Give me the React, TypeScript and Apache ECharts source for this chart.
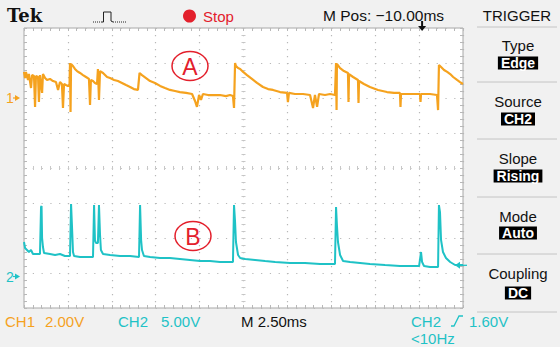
import React, { useEffect, useRef } from "react";
import * as echarts from "echarts";

// ---------- data (time in ms relative to trigger, values in volts) ----------
const timeRange = [-22.5, 2.5];
const timeDiv = 2.5; // M 2.50ms
const ch1Range = [-12, 4]; // 2.00 V/div, ground 2 div above centre
const ch1Div = 2;
const ch2Range = [-4.5, 35.5]; // 5.00 V/div
const triggerLevel = 1.6;

const ch1Data: [number, number][] = [
  [-22.5, 1.49], [-22.44, 1.14], [-22.39, 1.49], [-22.27, 1.03], [-22.22, 1.37], [-22.1, 0.57], [-22.04, 1.31],
  [-21.93, 1.26], [-21.87, -0.51], [-21.82, 1.26], [-21.7, 1.2], [-21.65, -0.23], [-21.59, 1.31], [-21.47, 0.29],
  [-21.42, 1.37], [-21.3, 1.14], [-21.19, 1.03], [-21.02, 1.09], [-20.85, 0.97], [-20.68, 0.91], [-20.56, 0.46],
  [-20.45, 0.91], [-20.34, 0.8], [-20.28, -0.57], [-20.22, 0.8], [-20.11, 0.74], [-20.0, 0.69], [-19.91, 0.69],
  [-19.88, 2.0], [-19.85, -0.8], [-19.82, 1.94], [-19.71, 1.83], [-19.6, 1.66], [-19.48, 1.54], [-19.31, 1.43],
  [-19.14, 1.31], [-18.97, 1.2], [-18.8, 1.09], [-18.74, -0.4], [-18.69, 1.03], [-18.57, 0.97], [-18.46, 0.86],
  [-18.34, 0.8], [-18.29, 1.66], [-18.23, -0.11], [-18.17, 1.54], [-18.0, 1.43], [-17.77, 1.2], [-17.6, 1.14],
  [-17.37, 1.03], [-17.15, 0.97], [-16.92, 0.86], [-16.69, 0.74], [-16.46, 0.63], [-16.24, 0.51], [-16.01, 0.46],
  [-15.92, 1.43], [-15.78, 1.31], [-15.55, 1.14], [-15.32, 0.97], [-15.04, 0.86], [-14.75, 0.69], [-14.47, 0.57],
  [-14.19, 0.46], [-13.9, 0.4], [-13.62, 0.34], [-13.27, 0.29], [-12.93, 0.23], [-12.76, -0.17], [-12.65, -0.51],
  [-12.53, 0.17], [-12.42, -0.11], [-12.31, 0.23], [-12.02, 0.17], [-11.68, 0.17], [-11.34, 0.17], [-11.0, 0.11],
  [-10.77, 0.17], [-10.6, 0.11], [-10.54, -0.57], [-10.48, 2.0], [-10.43, 1.83], [-10.31, 1.71], [-10.19, 1.66],
  [-10.02, 1.49], [-9.8, 1.31], [-9.52, 1.09], [-9.23, 0.86], [-8.89, 0.63], [-8.6, 0.51], [-8.32, 0.46],
  [-7.92, 0.34], [-7.52, 0.29], [-7.47, -0.23], [-7.41, 0.29], [-7.07, 0.23], [-6.61, 0.23], [-6.21, 0.17],
  [-6.04, -0.57], [-5.93, 0.17], [-5.81, -0.51], [-5.7, 0.23], [-5.36, 0.17], [-5.07, 0.23], [-4.79, 0.17],
  [-4.73, 2.0], [-4.7, -0.69], [-4.68, 1.94], [-4.5, 1.71], [-4.28, 1.54], [-4.05, 1.43], [-4.02, -0.23],
  [-3.99, 1.37], [-3.76, 1.2], [-3.48, 1.03], [-3.45, -0.29], [-3.42, 0.97], [-3.14, 0.8], [-2.8, 0.63],
  [-2.34, 0.46], [-1.83, 0.34], [-1.43, 0.29], [-1.09, 0.29], [-1.06, -0.51], [-1.03, 0.23], [-0.52, 0.23],
  [0.05, 0.23], [0.08, -0.23], [0.11, 0.23], [0.62, 0.23], [1.02, 0.17], [1.08, -0.69], [1.13, 1.89],
  [1.25, 1.77], [1.42, 1.6], [1.6, 1.49], [1.77, 1.37], [1.94, 1.2], [2.16, 1.03], [2.33, 0.91], [2.5, 0.8],
];

const ch2Data: [number, number][] = [
  [-22.5, 4.93], [-22.44, 4.07], [-22.33, 3.79], [-22.22, 3.5], [-22.1, 3.79], [-21.99, 3.21], [-21.59, 3.21],
  [-21.53, 9.93], [-21.5, 10.07], [-21.47, 5.5], [-21.42, 4.21], [-21.36, 3.36], [-21.02, 3.21], [-20.73, 3.07],
  [-20.45, 3.21], [-20.17, 2.93], [-19.88, 2.93], [-19.82, 10.36], [-19.77, 7.36], [-19.71, 3.5], [-19.65, 2.93],
  [-19.31, 2.79], [-18.97, 2.79], [-18.57, 2.79], [-18.51, 10.21], [-18.46, 5.21], [-18.4, 4.79], [-18.29, 4.79],
  [-18.23, 10.21], [-18.17, 5.93], [-18.12, 3.79], [-18.0, 3.21], [-17.6, 3.07], [-17.03, 2.93], [-16.46, 2.93],
  [-15.95, 2.79], [-15.89, 10.21], [-15.83, 5.21], [-15.78, 3.79], [-15.67, 2.93], [-15.32, 2.79], [-14.75, 2.64],
  [-14.19, 2.64], [-13.62, 2.5], [-13.05, 2.36], [-12.48, 2.21], [-11.91, 2.21], [-11.34, 2.07], [-10.6, 2.07],
  [-10.54, 10.21], [-10.48, 7.79], [-10.43, 4.93], [-10.31, 3.07], [-10.19, 2.64], [-9.9, 2.5], [-9.34, 2.36],
  [-8.77, 2.21], [-8.2, 2.07], [-7.35, 1.93], [-6.5, 1.93], [-5.64, 1.79], [-4.79, 1.79], [-4.73, 9.93],
  [-4.68, 7.36], [-4.62, 4.93], [-4.5, 3.07], [-4.33, 2.21], [-3.93, 2.07], [-3.36, 1.93], [-2.8, 1.79],
  [-1.94, 1.64], [-1.09, 1.5], [-0.52, 1.5], [0.0, 1.5], [0.11, 3.5], [0.17, 2.07], [0.28, 1.5], [0.62, 1.36],
  [1.08, 1.36], [1.13, 10.21], [1.19, 9.21], [1.25, 5.21], [1.36, 3.5], [1.53, 2.64], [1.77, 2.07], [2.05, 1.64],
  [2.5, 1.64],
];

const menuTitles = ["Type", "Source", "Slope", "Mode", "Coupling"];
const menuValues = ["Edge", "CH2", "Rising", "Auto", "DC"];

// ---------- styles ----------
const ORANGE = "#F5A21E";
const CYAN = "#1FC2C6";
const RED = "#E3202C";
const GRIDC = "#b8b8b8";
const SANS = "Liberation Sans, Arial, sans-serif";

const GRID = { left: 24, top: 28, width: 439, height: 280 };

function tickAxis(extra: any) {
  return {
    type: "value",
    axisLine: { show: false, onZero: false },
    axisLabel: { show: false },
    splitLine: { show: false },
    axisTick: { show: true, inside: true, length: 3, lineStyle: { color: GRIDC } },
    minorTick: { show: true, splitNumber: 5, length: 3, lineStyle: { color: GRIDC } },
    ...extra,
  };
}

export default function App() {
  const ref = useRef<HTMLDivElement>(null);
  useEffect(() => {
    if (!ref.current) return;
    const chart = echarts.init(ref.current, null, { renderer: "svg" });
    const xBase = { min: timeRange[0], max: timeRange[1], interval: timeDiv };
    const yBase = { min: ch1Range[0], max: ch1Range[1], interval: ch1Div };
    const centerTick = (inside: boolean) => ({
      axisTick: { show: true, inside, length: 2, lineStyle: { color: "#c8c8c8" } },
      minorTick: { show: true, splitNumber: 5, length: 2, lineStyle: { color: "#c8c8c8" } },
    });
    chart.setOption({
      animation: false,
      backgroundColor: "#f1f1f1",
      grid: { ...GRID, show: true, backgroundColor: "#ffffff", borderColor: "#a8a8a8", borderWidth: 1 },
      xAxis: [
        tickAxis({
          ...xBase,
          position: "bottom",
          splitLine: { show: true, lineStyle: { color: GRIDC, width: 1.2, type: [1.2, 5.8] } },
        }),
        tickAxis({ ...xBase, position: "top" }),
        tickAxis({ ...xBase, position: "bottom", offset: -GRID.height / 2, ...centerTick(true) }),
        tickAxis({ ...xBase, position: "bottom", offset: -GRID.height / 2, ...centerTick(false) }),
      ],
      yAxis: [
        tickAxis({
          ...yBase,
          position: "left",
          splitLine: { show: true, lineStyle: { color: GRIDC, width: 1.2, type: [1.2, 7.58] } },
        }),
        { type: "value", show: false, min: ch2Range[0], max: ch2Range[1], axisLine: { onZero: false }, splitLine: { show: false } },
        tickAxis({ ...yBase, position: "right" }),
        tickAxis({ ...yBase, position: "left", offset: -GRID.width / 2, ...centerTick(true) }),
        tickAxis({ ...yBase, position: "left", offset: -GRID.width / 2, ...centerTick(false) }),
      ],
      series: [
        {
          name: "CH1",
          type: "line",
          xAxisIndex: 0,
          yAxisIndex: 0,
          data: ch1Data,
          showSymbol: false,
          symbol: "none",
          lineStyle: { color: ORANGE, width: 2.2 },
          z: 5,
        },
        {
          name: "CH2",
          type: "line",
          xAxisIndex: 0,
          yAxisIndex: 1,
          data: ch2Data,
          showSymbol: false,
          symbol: "none",
          lineStyle: { color: CYAN, width: 2 },
          z: 5,
        },
      ],
    });

    const g1 = chart.convertToPixel({ yAxisIndex: 0 }, 0) as number;
    const g2 = chart.convertToPixel({ yAxisIndex: 1 }, 0) as number;
    const tY = chart.convertToPixel({ yAxisIndex: 1 }, triggerLevel) as number;
    const tX = chart.convertToPixel({ xAxisIndex: 0 }, 0) as number;
    const rightEdge = GRID.left + GRID.width;

    const txt = (text: string, x: number, y: number, fill: string, font: string, align = "left", extra: any = {}) => ({
      type: "text",
      x,
      y,
      z: 20,
      style: { text, fill, font, align, verticalAlign: "middle", ...extra },
    });

    const graphics: any[] = [];
    // header
    graphics.push(txt("Tek", 7, 15, "#111", "bold 18px DejaVu Serif, serif"));
    graphics.push({ type: "line", z: 20, shape: { x1: 93, y1: 22, x2: 102, y2: 22 }, style: { stroke: "#222", lineWidth: 1, lineDash: [1, 1] } });
    graphics.push({ type: "polyline", z: 20, shape: { points: [[102, 22], [103.5, 22], [103.5, 12], [111, 12], [111, 21], [113, 22]] }, style: { stroke: "#222", lineWidth: 1, fill: null } });
    graphics.push({ type: "line", z: 20, shape: { x1: 113, y1: 22, x2: 126, y2: 22 }, style: { stroke: "#222", lineWidth: 1, lineDash: [1, 1] } });
    graphics.push({ type: "circle", z: 20, shape: { cx: 189.5, cy: 16, r: 6.5 }, style: { fill: RED } });
    graphics.push(txt("Stop", 203, 16, RED, `15px ${SANS}`));
    graphics.push(txt("M Pos: \u221210.00ms", 323, 15, "#111", `15.5px ${SANS}`));
    graphics.push(txt("TRIGGER", 517, 15, "#111", `15px ${SANS}`, "center"));
    // trigger position arrow at top
    graphics.push({ type: "rect", z: 20, shape: { x: tX + 2, y: 21, width: 2, height: 6 }, style: { fill: "#111" } });
    graphics.push({ type: "polygon", z: 20, shape: { points: [[tX - 1, 26], [tX + 7, 26], [tX + 3, 31]] }, style: { fill: "#111" } });

    // menu
    const sepYs = [27, 82, 139, 197, 254, 312];
    sepYs.forEach((y) =>
      graphics.push({ type: "line", z: 20, shape: { x1: 477, y1: y, x2: 557, y2: y }, style: { stroke: "#c4c4c4", lineWidth: 1 } })
    );
    const titleYs = [45, 101, 158, 216, 273];
    const valueYs = [63, 119, 176, 233, 293];
    menuTitles.forEach((t, i) => {
      graphics.push(txt(t, 518, titleYs[i], "#111", `15px ${SANS}`, "center"));
      graphics.push(
        txt(menuValues[i], 518, valueYs[i], "#ffffff", `bold 14px ${SANS}`, "center", {
          backgroundColor: "#000",
          padding: [0, 3, 0, 3],
          lineHeight: 13,
        })
      );
    });

    // ground markers
    graphics.push(txt("1", 6, g1, ORANGE, `14px ${SANS}`));
    graphics.push({ type: "polygon", z: 20, shape: { points: [[15, g1 - 3], [20, g1], [15, g1 + 3]] }, style: { fill: ORANGE } });
    graphics.push({ type: "line", z: 20, shape: { x1: 13, y1: g1, x2: 16, y2: g1 }, style: { stroke: ORANGE, lineWidth: 1.2 } });
    graphics.push(txt("2", 6, g2, CYAN, `14px ${SANS}`));
    graphics.push({ type: "polygon", z: 20, shape: { points: [[15, g2 - 3], [20, g2], [15, g2 + 3]] }, style: { fill: CYAN } });
    graphics.push({ type: "line", z: 20, shape: { x1: 13, y1: g2, x2: 16, y2: g2 }, style: { stroke: CYAN, lineWidth: 1.2 } });
    // trigger level marker (right)
    graphics.push({ type: "polygon", z: 20, shape: { points: [[rightEdge - 8, tY], [rightEdge - 3, tY - 3.5], [rightEdge - 3, tY + 3.5]] }, style: { fill: CYAN } });
    graphics.push({ type: "line", z: 20, shape: { x1: rightEdge - 4, y1: tY, x2: rightEdge + 4, y2: tY }, style: { stroke: CYAN, lineWidth: 1.3 } });

    // annotations
    const ann = [
      { t: "A", cx: 190, cy: 66 },
      { t: "B", cx: 193, cy: 236 },
    ];
    ann.forEach((a) => {
      graphics.push({ type: "ellipse", z: 20, shape: { cx: a.cx, cy: a.cy, rx: 18, ry: 14.5 }, style: { fill: null, stroke: RED, lineWidth: 1.5 } });
      graphics.push(txt(a.t, a.cx, a.cy + 1, RED, `23px ${SANS}`, "center"));
    });

    // bottom status line
    const by = 321;
    graphics.push(txt("CH1", 5, by, ORANGE, `15px ${SANS}`));
    graphics.push(txt("2.00V", 45, by, ORANGE, `15px ${SANS}`));
    graphics.push(txt("CH2", 118, by, CYAN, `15px ${SANS}`));
    graphics.push(txt("5.00V", 161, by, CYAN, `15px ${SANS}`));
    graphics.push(txt("M 2.50ms", 241, by, "#111", `15px ${SANS}`));
    graphics.push(txt("CH2", 411, by, CYAN, `15px ${SANS}`));
    graphics.push({ type: "polyline", z: 20, shape: { points: [[451, by + 5], [454, by + 5], [459, by - 5], [463, by - 5]] }, style: { stroke: CYAN, lineWidth: 1.3, fill: null } });
    graphics.push(txt("1.60V", 469, by, CYAN, `15px ${SANS}`));
    graphics.push(txt("<10Hz", 411, by + 17, CYAN, `15px ${SANS}`));

    chart.setOption({ graphic: graphics });
    return () => chart.dispose();
  }, []);
  return <div ref={ref} style={{ position: "absolute", left: 0, top: 0, width: 560, height: 347 }} />;
}
